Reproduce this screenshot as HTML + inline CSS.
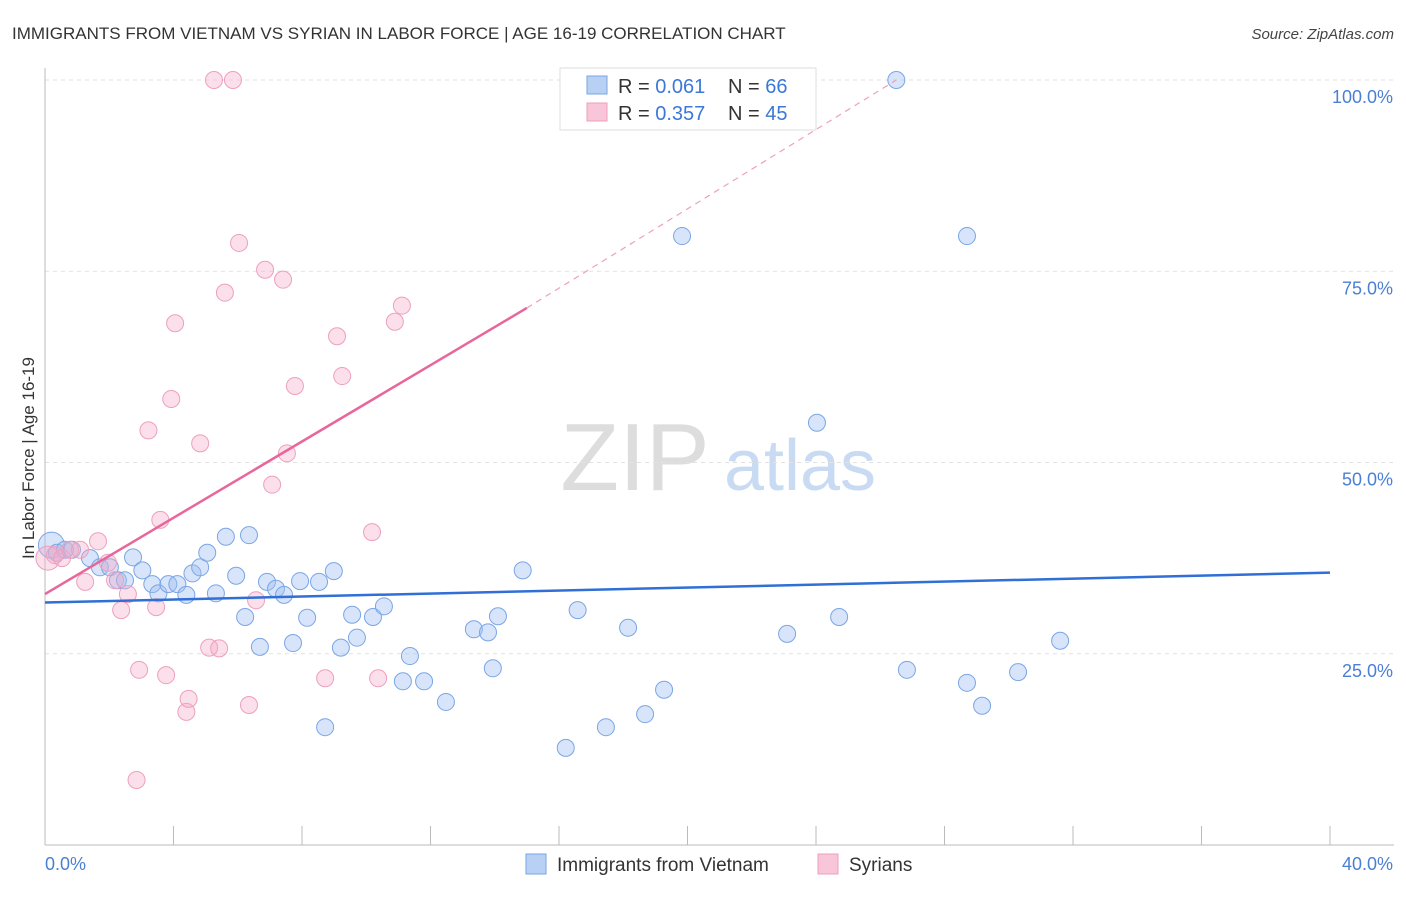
<!DOCTYPE html>
<html><head><meta charset="utf-8"><style>
body{margin:0;background:#fff;font-family:"Liberation Sans",sans-serif;}
svg text{font-family:"Liberation Sans",sans-serif;}
</style></head><body>
<svg id="chart" width="1406" height="892" xmlns="http://www.w3.org/2000/svg">
<text x="12" y="39" font-size="17" fill="#333">IMMIGRANTS FROM VIETNAM VS SYRIAN IN LABOR FORCE | AGE 16-19 CORRELATION CHART</text>
<text x="1394" y="39" font-size="15" fill="#444" text-anchor="end" font-style="italic">Source: ZipAtlas.com</text>
<text transform="translate(34,458) rotate(-90)" font-size="17" fill="#333" text-anchor="middle">In Labor Force | Age 16-19</text>
<g>
<text x="635" y="490" font-size="96" fill="#ddd" text-anchor="middle" font-family="Liberation Serif,serif">ZIP</text>
<text x="800" y="490" font-size="72" fill="#c9dbf3" text-anchor="middle">atlas</text>
</g>
<g id="grid"></g><g id="marks"></g>
<g>
<rect x="560" y="68" width="256" height="62" fill="#fff" stroke="#ddd"/>
<rect x="587" y="76" width="20" height="18" fill="#b8d0f3" stroke="#7aa6e6"/>
<rect x="587" y="103" width="20" height="18" fill="#f9c5d8" stroke="#eea0bc"/>
<text x="618" y="93" font-size="20" fill="#333">R = <tspan fill="#3b78d8">0.061</tspan></text>
<text x="728" y="93" font-size="20" fill="#333">N = <tspan fill="#3b78d8">66</tspan></text>
<text x="618" y="120" font-size="20" fill="#333">R = <tspan fill="#3b78d8">0.357</tspan></text>
<text x="728" y="120" font-size="20" fill="#333">N = <tspan fill="#3b78d8">45</tspan></text>
</g>
<g>
<rect x="526" y="854" width="20" height="20" fill="#b8d0f3" stroke="#7aa6e6"/>
<text x="557" y="871" font-size="19" fill="#333">Immigrants from Vietnam</text>
<rect x="818" y="854" width="20" height="20" fill="#f9c5d8" stroke="#eea0bc"/>
<text x="849" y="871" font-size="19" fill="#333">Syrians</text>
</g>
</svg>
<script>
const yTicks=[25,50,75,100];
const xTickLabels=["0.0%","40.0%"];
const vietX=[0.2,0.37,0.62,0.84,1.4,1.71,2.02,2.27,2.49,2.74,3.03,3.34,3.53,3.84,4.12,4.4,4.59,4.83,5.05,5.32,5.63,5.95,6.23,6.35,6.69,6.91,7.19,7.44,7.72,7.94,8.16,8.53,8.72,8.99,9.21,9.56,9.71,10.21,10.55,11.14,11.36,11.8,12.48,13.35,13.79,13.94,14.1,14.87,16.21,16.58,17.46,18.15,18.68,19.27,19.83,23.1,24.03,24.72,26.5,26.83,28.7,28.7,29.17,30.29,31.6];
const vietY=[39.2,38.2,38.6,38.6,37.5,36.3,36.3,34.6,34.6,37.6,35.9,34.1,32.9,34.1,34.1,32.7,35.5,36.3,38.2,32.9,40.3,35.2,29.8,40.5,25.9,34.4,33.5,32.7,26.4,34.5,29.7,34.4,15.4,35.8,25.8,30.1,27.1,29.8,31.2,21.4,24.7,21.4,18.7,28.2,27.8,23.1,29.9,35.9,12.7,30.7,15.4,28.4,17.1,20.3,79.6,27.6,55.2,29.8,100,22.9,79.6,21.2,18.2,22.6,26.7];
const syrX=[0.09,0.31,0.53,0.78,1.09,1.25,1.65,1.96,2.18,2.37,2.58,2.93,2.85,3.22,3.46,3.59,3.77,3.93,4.05,4.4,4.47,4.83,5.11,5.26,5.42,5.6,5.85,6.04,6.35,6.57,6.85,7.07,7.41,7.53,7.78,8.72,9.09,9.25,10.18,10.37,10.89,11.11];
const syrY=[37.5,37.9,37.5,38.6,38.6,34.4,39.7,36.9,34.6,30.7,32.8,22.9,8.5,54.2,31.1,42.5,22.2,58.3,68.2,17.4,19.1,52.5,25.8,100,25.7,72.2,100,78.7,18.3,32,75.2,47.1,73.9,51.2,60,21.8,66.5,61.3,40.9,21.8,68.4,70.5];
const trendBlue=[0.061,0,31.7,40,35.6];
const trendPink=[0,32.8,15,70.2,26.5,100];
const X=v=>45+v/40*1285, Y=v=>845-v/100*765;
const NS='http://www.w3.org/2000/svg';
function mk(tag,attrs,parent){const e=document.createElementNS(NS,tag);for(const k in attrs)e.setAttribute(k,attrs[k]);document.getElementById(parent).appendChild(e);return e;}
for(const t of yTicks){
const g=mk('line',{x1:45,x2:1394,y1:Y(t),y2:Y(t),stroke:'#e2e2e2','stroke-dasharray':'4,4'},'grid');


const l=mk('text',{x:1393,y:Y(t)+23,'font-size':18,fill:'#4a7fd4','text-anchor':'end'},'grid');
l.textContent=t.toFixed(1)+'%';


}
const ax=mk('line',{x1:45,x2:1394,y1:845,y2:845,stroke:'#bbb'},'grid');


const ay=mk('line',{x1:45,x2:45,y1:68,y2:845,stroke:'#bbb'},'grid');


for(let i=0;i<=10;i++){
const tk=mk('line',{x1:X(i*4),x2:X(i*4),y1:826,y2:845,stroke:'#bbb'},'grid');


}
const xl0=mk('text',{x:45,y:870,'font-size':18,fill:'#4a7fd4'},'grid');xl0.textContent=xTickLabels[0];


const xl1=mk('text',{x:1393,y:870,'font-size':18,fill:'#4a7fd4','text-anchor':'end'},'grid');xl1.textContent=xTickLabels[1];


vietX.forEach((x,i)=>{const c=mk('circle',{cx:X(x),cy:Y(vietY[i]),r:i==0?13:8.5,fill:'rgba(160,190,240,0.42)',stroke:'#7aa6e6','stroke-width':1},'marks');

});
syrX.forEach((x,i)=>{const c=mk('circle',{cx:X(x),cy:Y(syrY[i]),r:i==0?12:8.5,fill:'rgba(245,170,200,0.38)',stroke:'#eea0bc','stroke-width':1},'marks');

});
const tb=mk('line',{x1:X(trendBlue[1]),y1:Y(trendBlue[2]),x2:X(trendBlue[3]),y2:Y(trendBlue[4]),stroke:'#2f6fd6','stroke-width':2.5},'marks');


const tp=mk('line',{x1:X(trendPink[0]),y1:Y(trendPink[1]),x2:X(trendPink[2]),y2:Y(trendPink[3]),stroke:'#e8669a','stroke-width':2.5},'marks');


const td=mk('line',{x1:X(trendPink[2]),y1:Y(trendPink[3]),x2:X(trendPink[4]),y2:Y(trendPink[5]),stroke:'#eea0bc','stroke-width':1.2,'stroke-dasharray':'6,5'},'marks');


</script>
</body></html>
